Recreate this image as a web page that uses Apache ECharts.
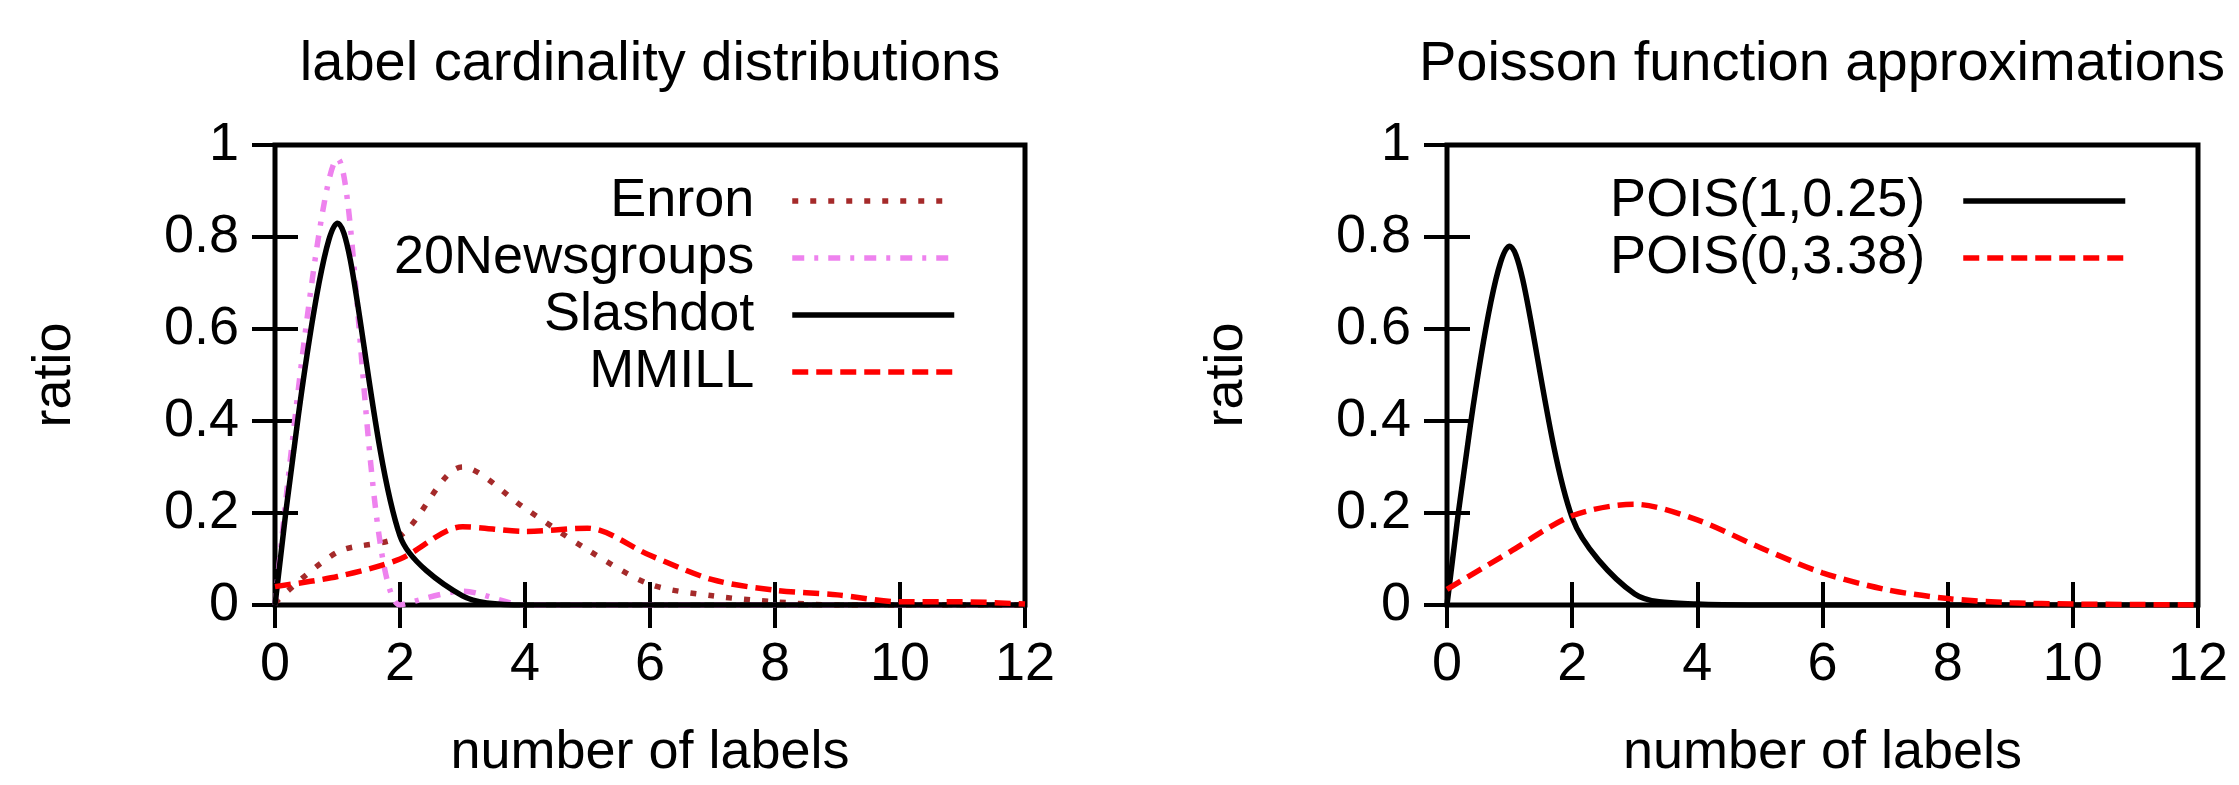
<!DOCTYPE html>
<html>
<head>
<meta charset="utf-8">
<title>label cardinality distributions</title>
<script src="https://cdn.jsdelivr.net/npm/echarts@6/dist/echarts.min.js"></script>
<style>
  html, body { margin: 0; padding: 0; background: #fff; }
  #main { width: 2239px; height: 785px; }
</style>
</head>
<body>
<div id="main"></div>
<script>
// number of labels (x positions of the measured points)
const labelCounts = [0, 1, 2, 3, 4, 5, 6, 7, 8, 9, 10, 11, 12];
const xTicks = [0, 2, 4, 6, 8, 10, 12];
const yTicks = [0, 0.2, 0.4, 0.6, 0.8, 1];

// left panel: label cardinality distributions
const enron = [0.005, 0.115, 0.15, 0.30, 0.21, 0.12, 0.045, 0.02, 0.007, 0, 0, 0, 0];
const newsgroups = [0, 0.97, 0, 0.03, 0, 0, 0, 0, 0, 0, 0, 0, 0];
const slashdot = [0, 0.83, 0.15, 0.02, 0, 0, 0, 0, 0, 0, 0, 0, 0];
const mmill = [0.04, 0.062, 0.10, 0.17, 0.16, 0.167, 0.108, 0.055, 0.032, 0.022, 0.007, 0.007, 0.002];

// right panel: Poisson function approximations
const pois1 = [0, 0.78, 0.19, 0.024, 0.002, 0, 0, 0, 0, 0, 0, 0, 0];
const pois0 = [0.034, 0.115, 0.194, 0.219, 0.185, 0.125, 0.07, 0.034, 0.014, 0.005, 0.002, 0.001, 0];

const font = "'Liberation Sans', Arial, sans-serif";
const black = "#000";
const lineW = 5.5;

function pairs(values) {
  return labelCounts.map((x, i) => [x, values[i]]);
}

function makeLine(name, values, color, dash, axisIdx) {
  return {
    name: name,
    type: "line",
    xAxisIndex: axisIdx,
    yAxisIndex: axisIdx,
    data: pairs(values),
    smooth: 0.3,
    symbol: "none",
    showSymbol: false,
    lineStyle: { color: color, width: lineW, type: dash, cap: "butt" },
    itemStyle: { color: color }
  };
}

function xAxes(grid) {
  const base = {
    gridIndex: grid,
    type: "value",
    min: xTicks[0],
    max: xTicks[xTicks.length - 1],
    interval: xTicks[1] - xTicks[0],
    axisLine: { show: false },
    splitLine: { show: false },
    axisTick: { inside: true, length: 23, lineStyle: { color: black, width: 4 } }
  };
  return [
    Object.assign({}, base, {
      position: "bottom",
      axisLabel: { margin: 33, fontSize: 54, color: black, fontFamily: font },
      name: "number of labels",
      nameLocation: "middle",
      nameGap: 121,
      nameTextStyle: { fontSize: 54, color: black, fontFamily: font }
    }),
    Object.assign({}, base, { position: "top", axisLabel: { show: false } })
  ];
}

function yAxes(grid) {
  const base = {
    gridIndex: grid,
    type: "value",
    min: yTicks[0],
    max: yTicks[yTicks.length - 1],
    interval: yTicks[1] - yTicks[0],
    axisLine: { show: false },
    splitLine: { show: false },
    axisTick: { inside: true, length: 23, lineStyle: { color: black, width: 4 } }
  };
  return [
    Object.assign({}, base, {
      position: "left",
      axisLabel: { margin: 36, fontSize: 54, color: black, fontFamily: font },
      name: "ratio",
      nameLocation: "middle",
      nameGap: 193,
      nameTextStyle: { fontSize: 54, color: black, fontFamily: font }
    }),
    Object.assign({}, base, { position: "right", axisLabel: { show: false } })
  ];
}

function legendBox(names, right) {
  return {
    data: names,
    orient: "vertical",
    align: "right",
    right: right,
    top: 174,
    padding: 0,
    itemWidth: 162,
    itemHeight: 4,
    itemGap: 3,
    selectedMode: false,
    itemStyle: { opacity: 0 },
    lineStyle: { width: lineW },
    textStyle: { fontSize: 54, color: black, fontFamily: font, padding: [0, 33, 0, 0] }
  };
}

const chart = echarts.init(document.getElementById("main"));

const lx = xAxes(0), rx = xAxes(1);
const ly = yAxes(0), ry = yAxes(1);

chart.setOption({
  animation: false,
  backgroundColor: "#fff",
  title: [
    {
      text: "label cardinality distributions",
      left: 650, top: 37, padding: 0, textAlign: "center",
      textStyle: { fontSize: 56, fontWeight: "normal", color: black, fontFamily: font }
    },
    {
      text: "Poisson function approximations",
      left: 1822, top: 37, padding: 0, textAlign: "center",
      textStyle: { fontSize: 56, fontWeight: "normal", color: black, fontFamily: font }
    }
  ],
  legend: [
    legendBox(["Enron", "20Newsgroups", "Slashdot", "MMILL"], 1282),
    legendBox(["POIS(1,0.25)", "POIS(0,3.38)"], 111)
  ],
  grid: [
    { left: 275, top: 145, width: 750, height: 468, show: true, borderColor: black, borderWidth: 5, backgroundColor: "transparent" },
    { left: 1447, top: 145, width: 751, height: 468, show: true, borderColor: black, borderWidth: 5, backgroundColor: "transparent" }
  ],
  xAxis: [lx[0], lx[1], rx[0], rx[1]],
  yAxis: [ly[0], ly[1], ry[0], ry[1]],
  series: [
    makeLine("Enron", enron, "#a52a2a", [6, 12], 0),
    makeLine("20Newsgroups", newsgroups, "#ee82ee", [12, 10, 4, 10], 0),
    makeLine("Slashdot", slashdot, black, "solid", 0),
    makeLine("MMILL", mmill, "#ff0000", [16, 8], 0),
    makeLine("POIS(1,0.25)", pois1, black, "solid", 2),
    makeLine("POIS(0,3.38)", pois0, "#ff0000", [16, 8], 2)
  ]
});
</script>
</body>
</html>
